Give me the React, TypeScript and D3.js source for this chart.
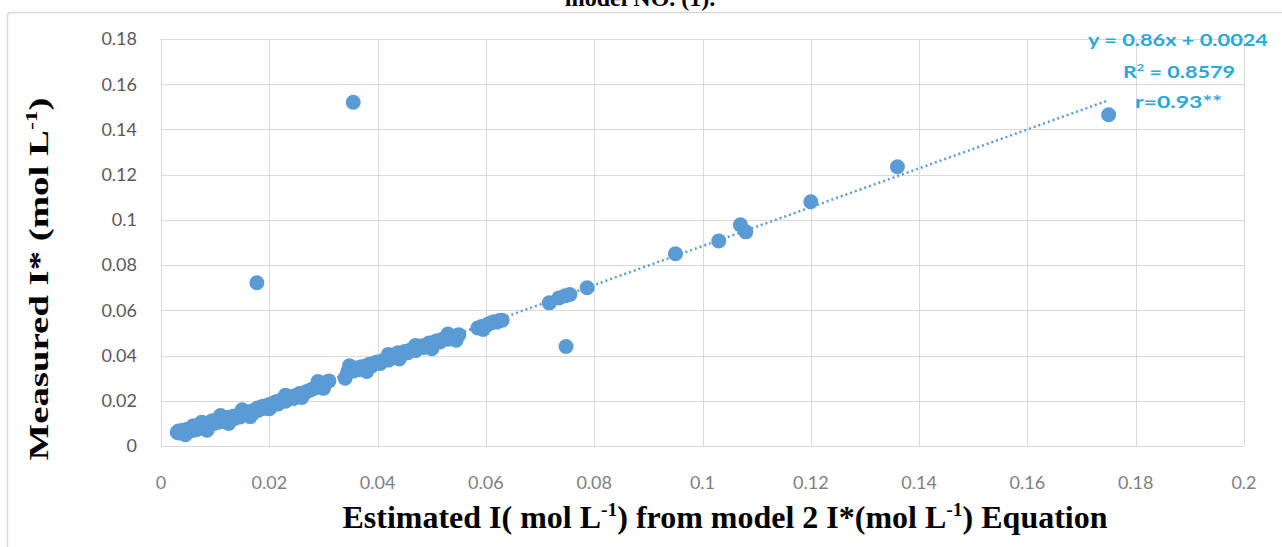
import React from 'react';
import * as d3 from 'd3';

const estimated = [
  0.0030, 0.0032, 0.0035, 0.0038, 0.0040, 0.0042, 0.0045, 0.0048, 0.0050, 0.0052,
  0.0055, 0.0057, 0.0060, 0.0063, 0.0065, 0.0068, 0.0070, 0.0073, 0.0075, 0.0078,
  0.0080, 0.0083, 0.0085, 0.0088, 0.0090, 0.0092, 0.0095, 0.0098, 0.0100, 0.0103,
  0.0106, 0.0110, 0.0113, 0.0116, 0.0120, 0.0123, 0.0126, 0.0130, 0.0133, 0.0136,
  0.0140, 0.0143, 0.0146, 0.0150, 0.0153, 0.0157, 0.0160, 0.0164, 0.0168, 0.0172,
  0.0175, 0.0178, 0.0180, 0.0184, 0.0188, 0.0190, 0.0195, 0.0200, 0.0204, 0.0208,
  0.0212, 0.0216, 0.0220, 0.0225, 0.0230, 0.0235, 0.0240, 0.0245, 0.0250, 0.0256,
  0.0262, 0.0268, 0.0274, 0.0280, 0.0286, 0.0292, 0.0298, 0.0304, 0.0310,
  0.0045, 0.0060, 0.0075, 0.0085, 0.0110, 0.0125, 0.0150, 0.0165, 0.0200, 0.0230,
  0.0260, 0.0290, 0.0300,
  0.0340, 0.0345, 0.0348, 0.0352, 0.0356, 0.0360, 0.0365, 0.0370, 0.0375, 0.0380,
  0.0385, 0.0390, 0.0395, 0.0400, 0.0405, 0.0410, 0.0415, 0.0420, 0.0425, 0.0430,
  0.0435, 0.0438, 0.0442, 0.0446, 0.0450, 0.0455, 0.0460, 0.0465, 0.0470, 0.0475,
  0.0480, 0.0485, 0.0490, 0.0495, 0.0500, 0.0505, 0.0510, 0.0515, 0.0520, 0.0525,
  0.0530, 0.0535, 0.0540, 0.0545, 0.0550,
  0.0380, 0.0420, 0.0440, 0.0470, 0.0500, 0.0530, 0.0545,
  0.0585, 0.0592, 0.0600, 0.0605, 0.0610, 0.0615, 0.0620, 0.0625, 0.0630, 0.0595,
  0.0717, 0.0735, 0.0746, 0.0755, 0.0787, 0.0950, 0.1030, 0.1070, 0.1080, 0.1200,
  0.1360, 0.1750,
  0.0355, 0.0177, 0.0748,
];

const measured = [
  0.0060, 0.0066, 0.0057, 0.0063, 0.0070, 0.0061, 0.0067, 0.0074, 0.0064, 0.0071,
  0.0078, 0.0068, 0.0075, 0.0082, 0.0072, 0.0080, 0.0087, 0.0078, 0.0085, 0.0092,
  0.0083, 0.0090, 0.0098, 0.0088, 0.0096, 0.0105, 0.0112, 0.0100, 0.0108, 0.0115,
  0.0105, 0.0112, 0.0120, 0.0110, 0.0118, 0.0126, 0.0116, 0.0124, 0.0132, 0.0122,
  0.0130, 0.0138, 0.0128, 0.0136, 0.0145, 0.0140, 0.0150, 0.0145, 0.0155, 0.0150,
  0.0160, 0.0168, 0.0158, 0.0170, 0.0176, 0.0166, 0.0178, 0.0184, 0.0176, 0.0190,
  0.0196, 0.0186, 0.0200, 0.0206, 0.0198, 0.0212, 0.0218, 0.0210, 0.0225, 0.0232,
  0.0226, 0.0240, 0.0246, 0.0252, 0.0258, 0.0264, 0.0272, 0.0280, 0.0288,
  0.0050, 0.0090, 0.0105, 0.0070, 0.0135, 0.0100, 0.0160, 0.0130, 0.0165, 0.0225,
  0.0215, 0.0285, 0.0255,
  0.0300, 0.0330, 0.0355, 0.0340, 0.0332, 0.0345, 0.0338, 0.0350, 0.0342, 0.0356,
  0.0362, 0.0355, 0.0368, 0.0372, 0.0365, 0.0378, 0.0385, 0.0380, 0.0392, 0.0398,
  0.0408, 0.0412, 0.0400, 0.0410, 0.0418, 0.0412, 0.0424, 0.0430, 0.0422, 0.0436,
  0.0442, 0.0436, 0.0448, 0.0455, 0.0448, 0.0460, 0.0466, 0.0460, 0.0472, 0.0478,
  0.0472, 0.0482, 0.0478, 0.0488, 0.0492,
  0.0330, 0.0405, 0.0385, 0.0445, 0.0430, 0.0495, 0.0468,
  0.0522, 0.0528, 0.0532, 0.0540, 0.0545, 0.0550, 0.0548, 0.0555, 0.0556, 0.0515,
  0.0633, 0.0655, 0.0664, 0.0670, 0.0700, 0.0850, 0.0907, 0.0978, 0.0947, 0.1080,
  0.1235, 0.1465,
  0.1520, 0.0722, 0.0440,
];

const xTicks = [0, 0.02, 0.04, 0.06, 0.08, 0.1, 0.12, 0.14, 0.16, 0.18, 0.2];
const yTicks = [0, 0.02, 0.04, 0.06, 0.08, 0.1, 0.12, 0.14, 0.16, 0.18];

// linear trendline from the chart: y = 0.86x + 0.0024
const slope = 0.86;
const intercept = 0.0024;
const equationLines = ['y = 0.86x + 0.0024', 'R2 = 0.8579', 'r=0.93**'];

const App = () => {
  const width = 1282;
  const height = 547;
  const left = 161;
  const right = 1244;
  const top = 39;
  const bottom = 446;

  const x = d3.scaleLinear().domain([0, 0.2]).range([left, right]);
  const y = d3.scaleLinear().domain([0, 0.18]).range([bottom, top]);

  const points = estimated.map((e, i) => ({ e, m: measured[i] }));
  const xMin = d3.min(estimated);
  const xMax = d3.max(estimated);
  const trend = d3.line()
    .x(d => x(d))
    .y(d => y(slope * d + intercept))([xMin, xMax]);

  const blue = '#5b9bd5';
  const eqColor = '#2aa8d8';
  const serif = '"Liberation Serif", "Times New Roman", serif';
  const sans = 'Lato, "Open Sans", sans-serif';

  return (
    <svg width={width} height={height} style={{ position: 'absolute', left: 0, top: 0, background: '#fff' }}>
      {/* chart frame */}
      <rect x={7.5} y={12.5} width={1300} height={560} rx={3} fill="#fff" stroke="#d9d9d9" strokeWidth={1.5} />

      {/* title, cut off at the top like the source */}
      <text x={640} y={6} textAnchor="middle" fontFamily={serif} fontWeight="bold" fontSize={24} fill="#000">
        model NO. (1).
      </text>

      {/* grid */}
      {yTicks.map(t => (
        <line key={'gy' + t} x1={left} x2={right} y1={Math.round(y(t)) + 0.5} y2={Math.round(y(t)) + 0.5} stroke="#d9d9d9" />
      ))}
      {xTicks.map(t => (
        <line key={'gx' + t} x1={Math.round(x(t)) + 0.5} x2={Math.round(x(t)) + 0.5} y1={top} y2={bottom} stroke="#d9d9d9" />
      ))}

      {/* tick labels */}
      {yTicks.map(t => (
        <text key={'ly' + t} x={137} y={y(t)} dy="0.35em" textAnchor="end" fontFamily={sans} fontSize={18} fill="#595959">
          {String(t)}
        </text>
      ))}
      {xTicks.map(t => (
        <text key={'lx' + t} x={x(t)} y={483} dy="0.35em" textAnchor="middle" fontFamily={sans} fontSize={18} fill="#7f7f7f">
          {String(t)}
        </text>
      ))}

      {/* points */}
      {points.map((p, i) => (
        <circle key={i} cx={x(p.e)} cy={y(p.m)} r={7.5} fill={blue} />
      ))}

      {/* trendline */}
      <path d={trend} fill="none" stroke={blue} strokeWidth={2.5} strokeDasharray="2 3" />

      {/* equation */}
      <g fontFamily={sans} fontWeight="bold" fontSize={17} fill={eqColor} textAnchor="end">
        <text x={1268} y={46} textLength={180} lengthAdjust="spacingAndGlyphs">{equationLines[0]}</text>
        <text x={1235} y={78} textLength={112} lengthAdjust="spacingAndGlyphs">
          R<tspan fontSize={10} dy={-7}>2</tspan><tspan dy={7}> = 0.8579</tspan>
        </text>
        <text x={1222} y={108} textLength={87} lengthAdjust="spacingAndGlyphs">{equationLines[2]}</text>
      </g>

      {/* axis titles */}
      <text transform="translate(48,279) rotate(-90)" textAnchor="middle" fontFamily={serif} fontWeight="bold" fontSize={28} fill="#000"
        textLength={363} lengthAdjust="spacingAndGlyphs">
        Measured I* (mol L<tspan fontSize={17} dy={-11}>-1</tspan><tspan dy={11}>)</tspan>
      </text>
      <text x={725} y={528} textAnchor="middle" fontFamily={serif} fontWeight="bold" fontSize={31} fill="#000"
        textLength={765} lengthAdjust="spacingAndGlyphs">
        Estimated I( mol L<tspan fontSize={19} dy={-12}>-1</tspan><tspan dy={12}>) from model 2 I*(mol L</tspan><tspan fontSize={19} dy={-12}>-1</tspan><tspan dy={12}>) Equation</tspan>
      </text>
    </svg>
  );
};

export default App;
